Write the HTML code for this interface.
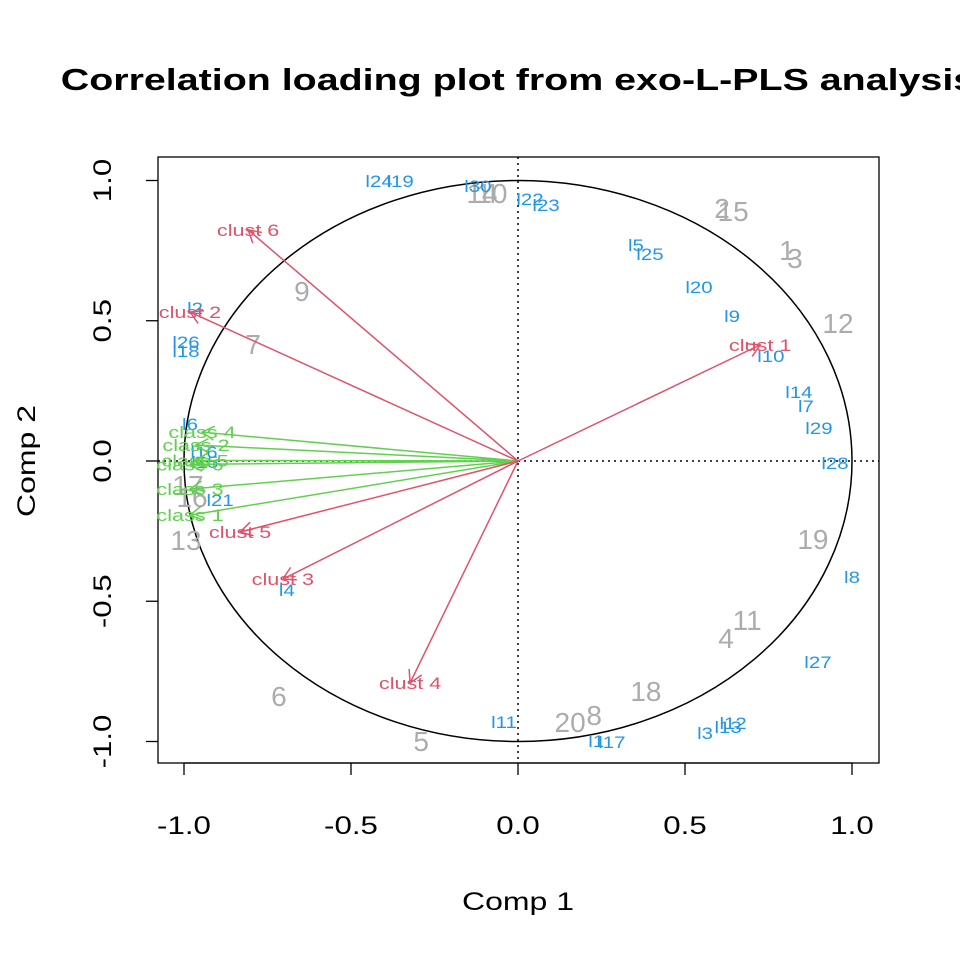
<!DOCTYPE html>
<html><head><meta charset="utf-8"><style>body{margin:0;background:#fff}svg{display:block}text{font-family:"Liberation Sans",Arial,sans-serif}</style></head>
<body>
<svg id="chart" width="960" height="960" viewBox="0 0 960 960" xmlns="http://www.w3.org/2000/svg">
<rect width="960" height="960" fill="#fff"/>
<text id="title" x="518" y="90" font-size="31" font-weight="bold" text-anchor="middle">Correlation loading plot from exo-L-PLS analysis</text>
<g id="axes"></g>
<g id="marks"></g>
</svg>
<script>
const objLabels=["1","2","3","4","5","6","7","8","9","10","11","12","13","14","15","16","17","18","19","20"];
const objX=[0.805,0.611,0.829,0.623,-0.290,-0.716,-0.793,0.228,-0.647,-0.078,0.686,0.958,-0.994,-0.108,0.644,-0.976,-0.988,0.383,0.883,0.156];
const objY=[0.752,0.902,0.724,-0.631,-0.998,-0.838,0.417,-0.906,0.606,0.955,-0.567,0.492,-0.282,0.955,0.891,-0.128,-0.086,-0.820,-0.278,-0.930];
const varLabels=["l24","l19","l30","l22","l23","l5","l25","l20","l9","l10","l14","l7","l29","l28","l8","l27","l12","l13","l3","l17","l1","l11","l4","l21","l2","l26","l18","l6","l16","l15"];
const varX=[-0.416,-0.353,-0.120,0.036,0.084,0.353,0.395,0.542,0.641,0.757,0.841,0.862,0.901,0.949,1.0,0.898,0.644,0.629,0.560,0.281,0.234,-0.042,-0.692,-0.892,-0.967,-0.994,-0.994,-0.982,-0.940,-0.937];
const varY=[0.998,0.998,0.980,0.934,0.913,0.770,0.738,0.620,0.517,0.374,0.246,0.196,0.118,-0.007,-0.414,-0.717,-0.934,-0.948,-0.970,-1.002,-0.998,-0.930,-0.460,-0.139,0.545,0.424,0.392,0.132,0.032,-0.004];
const clustLabels=["clust 1","clust 2","clust 6","clust 5","clust 3","clust 4"];
const clustX=[0.725,-0.982,-0.808,-0.832,-0.704,-0.323];
const clustY=[0.414,0.531,0.824,-0.253,-0.421,-0.791];
const classLabels=["class 4","class 2","class 5","class 6","class 3","class 1"];
const classX=[-0.946,-0.964,-0.967,-0.982,-0.982,-0.982];
const classY=[0.103,0.057,0.002,-0.012,-0.100,-0.193];
const xTicks=[-1.0,-0.5,0.0,0.5,1.0];
const yTicks=[-1.0,-0.5,0.0,0.5,1.0];

const NS="http://www.w3.org/2000/svg";
const sx=v=>518+334*v, sy=v=>461-280.5*v;
const axes=document.getElementById('axes'), marks=document.getElementById('marks');
function mk(tag,attrs,parent,txt){const e=document.createElementNS(NS,tag);for(const k in attrs)e.setAttribute(k,attrs[k]);if(txt!==undefined)e.textContent=txt;parent.appendChild(e);return e;}
function stretch(t,f){try{const w=t.getComputedTextLength();if(w>0){t.setAttribute('textLength',w*f);t.setAttribute('lengthAdjust','spacingAndGlyphs');}}catch(err){}}
stretch(document.getElementById('title'),1.27);

let e=mk('rect',{x:158,y:157,width:721,height:606,fill:'none',stroke:'#000','stroke-width':1.3},axes);


xTicks.forEach(t=>{
  e=mk('line',{x1:sx(t),x2:sx(t),y1:763,y2:775,stroke:'#000','stroke-width':1.3},axes);
  
  
  e=mk('text',{x:sx(t),y:834,'font-size':25,'text-anchor':'middle'},axes,t.toFixed(1));
  
  
  stretch(e,1.25);
});
mk('line',{x1:sx(-1),x2:sx(1),y1:763,y2:763,stroke:'#000','stroke-width':1.3},axes);
yTicks.forEach(t=>{
  e=mk('line',{x1:146,x2:158,y1:sy(t),y2:sy(t),stroke:'#000','stroke-width':1.3},axes);
  
  
  e=mk('text',{x:0,y:0,'font-size':25,'text-anchor':'middle',transform:`translate(111,${sy(t)}) rotate(-90)`},axes,t.toFixed(1));
  
  
  stretch(e,1.25);
});
e=mk('text',{x:518,y:910,'font-size':25,'text-anchor':'middle'},axes,'Comp 1');


stretch(e,1.28);
e=mk('text',{x:0,y:0,'font-size':25,'text-anchor':'middle',transform:'translate(35,461) rotate(-90)'},axes,'Comp 2');


stretch(e,1.28);
e=mk('ellipse',{cx:sx(0),cy:sy(0),rx:334,ry:280.5,fill:'none',stroke:'#000','stroke-width':1.5},axes);


mk('line',{x1:158,x2:879,y1:sy(0),y2:sy(0),stroke:'#000','stroke-width':1.5,'stroke-dasharray':'2,4'},axes);
mk('line',{x1:sx(0),x2:sx(0),y1:157,y2:763,stroke:'#000','stroke-width':1.5,'stroke-dasharray':'2,4'},axes);

objLabels.forEach((l,i)=>{
  e=mk('text',{x:sx(objX[i]),y:sy(objY[i])+10,'font-size':28,fill:'#ACACAC','text-anchor':'middle'},marks,l);
  
  
});
varLabels.forEach((l,i)=>{
  e=mk('text',{x:sx(varX[i]),y:sy(varY[i])+6,'font-size':17,fill:'#2297E6','text-anchor':'middle'},marks,l);
  
  
  stretch(e,1.2);
});
function arrow(x,y,col,name){
  const X=sx(x),Y=sy(y),X0=sx(0),Y0=sy(0);
  const a=Math.atan2(Y-Y0,X-X0),L=14;
  let d=`M${X0},${Y0}L${X},${Y}M${X-L*Math.cos(a-0.5236)},${Y-L*Math.sin(a-0.5236)}L${X},${Y}L${X-L*Math.cos(a+0.5236)},${Y-L*Math.sin(a+0.5236)}`;
  const p=mk('path',{d:d,fill:'none',stroke:col,'stroke-width':1.5},marks);
  
  
}
classLabels.forEach((l,i)=>{
  arrow(classX[i],classY[i],'#61D04F','class-arrow');
  e=mk('text',{x:sx(classX[i]),y:sy(classY[i])+6,'font-size':17,fill:'#61D04F','text-anchor':'middle'},marks,l);
  
  
  stretch(e,1.27);
});
clustLabels.forEach((l,i)=>{
  arrow(clustX[i],clustY[i],'#DF536B','cluster-arrow');
  e=mk('text',{x:sx(clustX[i]),y:sy(clustY[i])+6,'font-size':17,fill:'#DF536B','text-anchor':'middle'},marks,l);
  
  
  stretch(e,1.27);
});
</script>
</body></html>
